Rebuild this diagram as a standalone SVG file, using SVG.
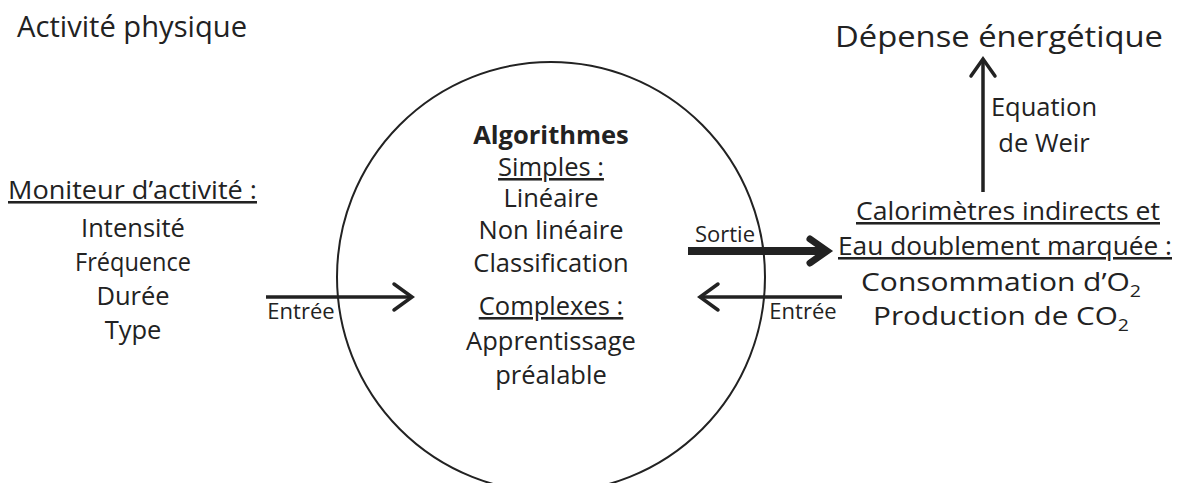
<svg xmlns="http://www.w3.org/2000/svg" width="1183" height="483" viewBox="0 0 1183 483">
<style>
text{font-family:"Open Sans","Noto Sans","Liberation Sans",sans-serif;font-size:25.5px;fill:#222;text-anchor:middle}
.u{text-decoration:underline}
.b{font-weight:bold}
.lbl{font-size:22px}
.big{font-size:29px}
.ln{fill:none;stroke:#222;stroke-width:3.5;stroke-linecap:butt}
.hd{fill:none;stroke:#222;stroke-width:3.5;stroke-linejoin:miter;stroke-linecap:round}
.thick{stroke-width:8}
.thickhd{stroke-width:7}
</style>
<rect width="1183" height="483" fill="#fff"/>
<g id="title"><text class="big" x="132" y="37" textLength="230" lengthAdjust="spacingAndGlyphs">Activité physique</text></g>
<g id="algorithmes">
<ellipse cx="551" cy="277" rx="214" ry="215" fill="none" stroke="#222" stroke-width="2"/>
<text class="b" x="551" y="144">Algorithmes</text>
<text class="u" x="551" y="176">Simples :</text>
<text x="551" y="207">Linéaire</text>
<text x="551" y="239">Non linéaire</text>
<text x="551" y="272">Classification</text>
<text class="u" x="551" y="315">Complexes :</text>
<text x="551" y="350">Apprentissage</text>
<text x="551" y="384">préalable</text>
</g>
<g id="moniteur">
<text class="u" x="132.5" y="199" textLength="249" lengthAdjust="spacingAndGlyphs">Moniteur d’activité :</text>
<text x="133" y="237">Intensité</text>
<text x="133" y="271" textLength="116" lengthAdjust="spacingAndGlyphs">Fréquence</text>
<text x="133" y="305">Durée</text>
<text x="133" y="339">Type</text>
</g>
<g id="calorimetres">
<text class="u" x="1008" y="220" textLength="304" lengthAdjust="spacingAndGlyphs">Calorimètres indirects et</text>
<text class="u" x="1005" y="255" textLength="334" lengthAdjust="spacingAndGlyphs">Eau doublement marquée :</text>
<text x="1001" y="291" style="font-size:26px" textLength="280" lengthAdjust="spacingAndGlyphs">Consommation d’O<tspan font-size="17" dy="6">2</tspan></text>
<text x="1001" y="325" style="font-size:26px" textLength="256" lengthAdjust="spacingAndGlyphs">Production de CO<tspan font-size="17" dy="6">2</tspan></text>
</g>
<g id="depense"><text x="999" y="47" style="font-size:30px" textLength="328" lengthAdjust="spacingAndGlyphs">Dépense énergétique</text></g>
<g id="connectors">
<path class="ln" d="M266 297 L412 297"/>
<path class="hd" d="M394 284 L412 297 L394 310"/>
<text class="lbl" x="301" y="319">Entrée</text>
<path class="ln thick" d="M688 251 L826 251"/>
<path class="hd thickhd" d="M810 239 L827 251 L810 263"/>
<text class="lbl" x="725" y="242">Sortie</text>
<path class="ln" d="M842 297 L700 297"/>
<path class="hd" d="M718 284 L700 297 L718 310"/>
<text class="lbl" x="803" y="319">Entrée</text>
<path class="ln" d="M983 192 L983 60"/>
<path class="hd" d="M971 76 L983 59 L995 76"/>
<text x="1044" y="116">Equation</text>
<text x="1044" y="152">de Weir</text>
</g>
</svg>
